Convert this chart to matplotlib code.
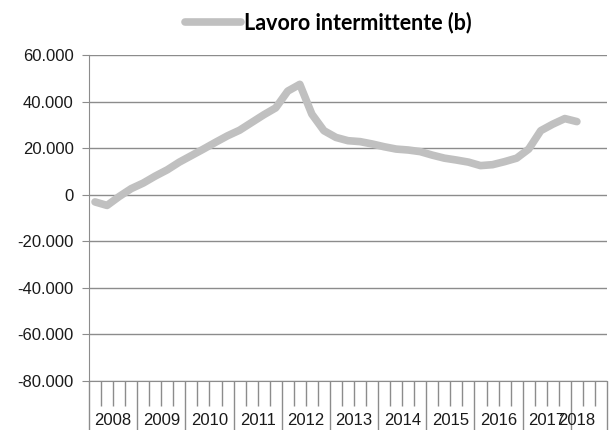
import numpy as np
import matplotlib.pyplot as plt
from matplotlib.ticker import FuncFormatter, FixedLocator

# quarterly values, 2008 Q1 .. 2018 Q1
values = [-3100, -4600, -800, 2600, 5000, 8000, 10700, 14000, 16800, 19600,
          22500, 25300, 27700, 31000, 34300, 37300, 44500, 47400, 34600, 27500,
          24600, 23200, 22800, 21800, 20600, 19600, 19200, 18500, 17000, 15700,
          14900, 14000, 12500, 12900, 14200, 15700, 19600, 27500, 30300, 32700,
          31400]
years = ['2008', '2009', '2010', '2011', '2012', '2013', '2014', '2015',
         '2016', '2017', '2018']
n_cat = 43
series_name = 'Lavoro intermittente (b)'

grey = '#8c8c8c'
line_col = '#c0c0c0'

fig = plt.figure(figsize=(6.09, 4.30), dpi=100)
ax = fig.add_axes([89 / 609, 1 - 381 / 430, (607 - 89) / 609, (381 - 55) / 430])

x = np.arange(len(values)) + 0.5
ax.plot(x, values, color=line_col, lw=5.5, solid_capstyle='round',
        solid_joinstyle='round', label=series_name)

ax.set_xlim(0, n_cat)
ax.set_ylim(-80000, 60000)
ax.set_yticks(np.arange(-80000, 60001, 20000))
ax.yaxis.set_major_formatter(FuncFormatter(lambda v, p: f"{int(v):,}".replace(',', '.')))
ax.grid(axis='y', color=grey, lw=1)
ax.set_axisbelow(True)

for s in ['top', 'right']:
    ax.spines[s].set_visible(False)
for s in ['left', 'bottom']:
    ax.spines[s].set_color(grey)

# long ticks at year boundaries, short ticks at each quarter
bounds = list(range(0, 41, 4)) + [n_cat]
ax.xaxis.set_major_locator(FixedLocator(bounds))
ax.xaxis.set_minor_locator(FixedLocator([i for i in range(n_cat + 1) if i not in bounds]))
ax.set_xticklabels([])
ax.tick_params(axis='x', which='major', length=36, color=grey, width=1)
ax.tick_params(axis='x', which='minor', length=18, color=grey, width=1)
ax.tick_params(axis='y', length=5, color=grey, pad=6, labelsize=12,
               labelcolor='#1a1a1a')
for t in ax.get_yticklabels():
    t.set_family('Liberation Sans')

centers = [2 + 4 * i for i in range(10)] + [40.5]
for c, yr in zip(centers, years):
    ax.text(c, -0.12, yr, transform=ax.get_xaxis_transform(), ha='center',
            va='center', fontsize=12, family='Liberation Sans', color='#1a1a1a')

leg = fig.legend(loc='center', bbox_to_anchor=(328 / 609, 1 - 23 / 430),
                 frameon=False, handlelength=2.6, handletextpad=0.15,
                 prop={'family': 'Lato', 'weight': 'bold', 'size': 15.5})

fig.savefig('out.png', dpi=100)
